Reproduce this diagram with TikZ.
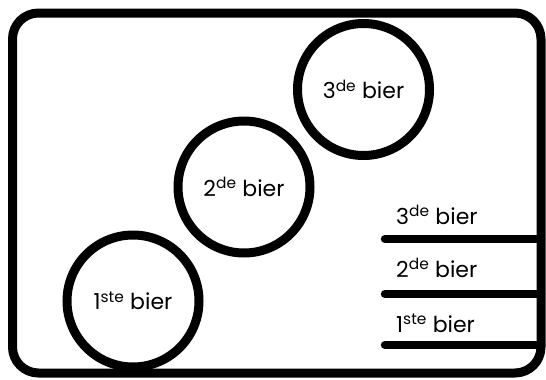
\documentclass[tikz,border=0pt]{standalone}
\usepackage{fontspec}
\setmainfont{Poppins}
\begin{document}
\begin{tikzpicture}[x=1pt,y=-1pt,
  frame/.style={draw=black,line width=9pt},
  beer/.style={draw=black,line width=9pt,circle,minimum size=132pt,inner sep=0pt,font=\fontsize{22}{26}\selectfont},
  lbl/.style={anchor=base west,inner sep=0pt,font=\fontsize{22}{26}\selectfont},
  bar/.style={draw=black,line width=8.5pt,line cap=round}]
\useasboundingbox (0,0) rectangle (546,380);
\draw[frame,rounded corners=26pt] (12.5,13) rectangle (541,373);
\node[beer] (c3) at (363.5,89.5) {3\textsuperscript{de} bier};
\node[beer] (c2) at (244,187) {2\textsuperscript{de} bier};
\node[beer] (c1) at (133,301) {1\textsuperscript{ste} bier};
\node[lbl] (l3) at (396,224) {3\textsuperscript{de} bier};
\node[lbl] (l2) at (396,277) {2\textsuperscript{de} bier};
\node[lbl] (l1) at (396,332) {1\textsuperscript{ste} bier};
\coordinate (a3) at (385,239); \coordinate (b3) at (541,239);
\coordinate (a2) at (385,294); \coordinate (b2) at (541,294);
\coordinate (a1) at (385,345); \coordinate (b1) at (541,345);
\draw[bar] (a3) -- (b3);
\draw[bar] (a2) -- (b2);
\draw[bar] (a1) -- (b1);
\end{tikzpicture}
\end{document}
